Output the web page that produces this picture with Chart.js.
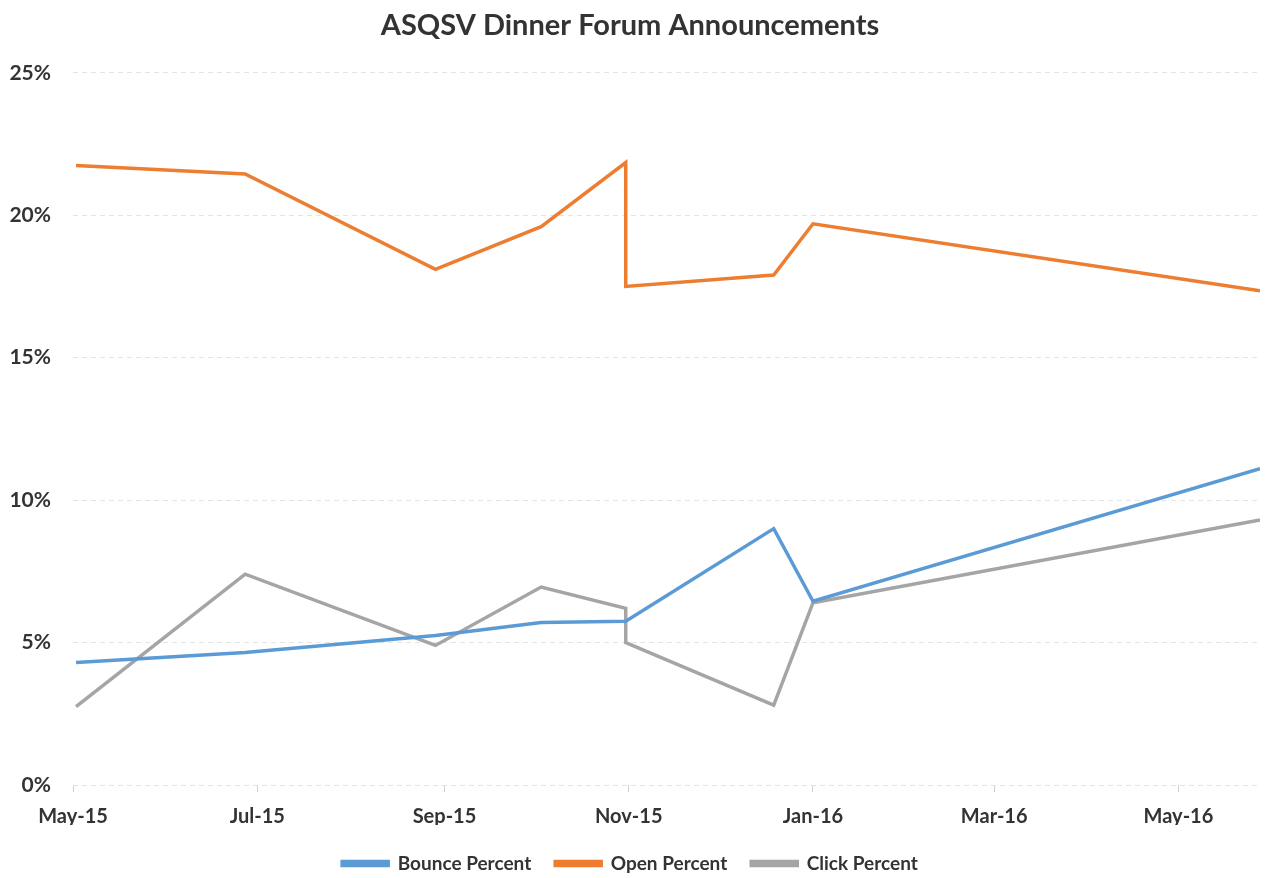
<!DOCTYPE html>
<html>
<head>
<meta charset="utf-8">
<script src="https://cdn.jsdelivr.net/npm/chart.js@4.4.1/dist/chart.umd.min.js"></script>
<style>
  html, body { margin: 0; padding: 0; background: #fff; }
  #wrap { width: 1265px; height: 878px; }
</style>
</head>
<body>
<div id="wrap"><canvas id="c" width="1265" height="878"></canvas></div>
<script>
// Dates en jours depuis le 1er mai 2015 (axe linéaire, pas d'adaptateur de dates)
const days = [1, 57, 120, 155, 183, 183, 232, 245, 393];
const bounce = [4.3, 4.65, 5.25, 5.7, 5.75, 5.75, 9.0, 6.45, 11.1];
const open = [21.75, 21.45, 18.1, 19.6, 21.85, 17.5, 17.9, 19.7, 17.35];
const click = [2.75, 7.4, 4.9, 6.95, 6.2, 5.0, 2.8, 6.4, 9.3];

const tickDays = [0, 61, 123, 184, 245, 305, 366];
const tickLabels = ["May-15", "Jul-15", "Sep-15", "Nov-15", "Jan-16", "Mar-16", "May-16"];
const yTicks = [0, 5, 10, 15, 20, 25];

const FONT = "Lato, 'Open Sans', sans-serif";
const pts = (vals) => vals.map((v, i) => ({ x: days[i], y: v }));

const serie = (label, vals, color) => ({
  label,
  data: pts(vals),
  borderColor: color,
  backgroundColor: color,
  borderWidth: 3.5,
  pointRadius: 0,
  tension: 0,
  fill: false,
});

// descend un peu la légende (Chart.js la colle au bas du canvas)
const legendShift = {
  id: "legendShift",
  afterLayout(chart) {
    chart.legend.top += 5;
    chart.legend.bottom += 5;
  },
};

new Chart(document.getElementById("c"), {
  type: "line",
  data: {
    datasets: [
      serie("Bounce Percent", bounce, "#5b9bd5"),
      serie("Open Percent", open, "#ed7d31"),
      serie("Click Percent", click, "#a5a5a5"),
    ],
  },
  plugins: [legendShift],
  options: {
    responsive: false,
    animation: false,
    layout: { padding: { left: 0, right: 5, top: 0, bottom: 0 } },
    plugins: {
      title: {
        display: true,
        text: "ASQSV Dinner Forum Announcements",
        color: "#333",
        font: { family: FONT, size: 29, weight: "bold" },
        padding: { top: 8, bottom: 30 },
      },
      legend: {
        position: "bottom",
        labels: {
          color: "#333",
          font: { family: FONT, size: 19, weight: "bold" },
          boxWidth: 46,
          boxHeight: 4,
          padding: 24,
        },
      },
      tooltip: { enabled: false },
    },
    scales: {
      x: {
        type: "linear",
        min: 0,
        max: 393,
        afterBuildTicks: (s) => { s.ticks = tickDays.map((v) => ({ value: v })); },
        afterFit: (s) => { s.height = 40; },
        ticks: {
          autoSkip: false,
          maxRotation: 0,
          padding: 13,
          color: "#333",
          font: { family: FONT, size: 20, weight: "bold" },
          callback: (v) => tickLabels[tickDays.indexOf(v)] || "",
        },
        grid: { drawOnChartArea: false, drawTicks: true, tickLength: 7, color: "#d0d0d0" },
        border: { display: false },
      },
      y: {
        min: 0,
        max: 25,
        afterBuildTicks: (s) => { s.ticks = yTicks.map((v) => ({ value: v })); },
        afterFit: (s) => { s.width = 73; },
        ticks: {
          padding: 22,
          color: "#333",
          font: { family: FONT, size: 21, weight: "bold" },
          callback: (v) => v + "%",
        },
        grid: { color: "#e4e4e4", drawTicks: false, lineWidth: 1 },
        border: { display: false, dash: [5, 4] },
      },
    },
  },
});
</script>
</body>
</html>
